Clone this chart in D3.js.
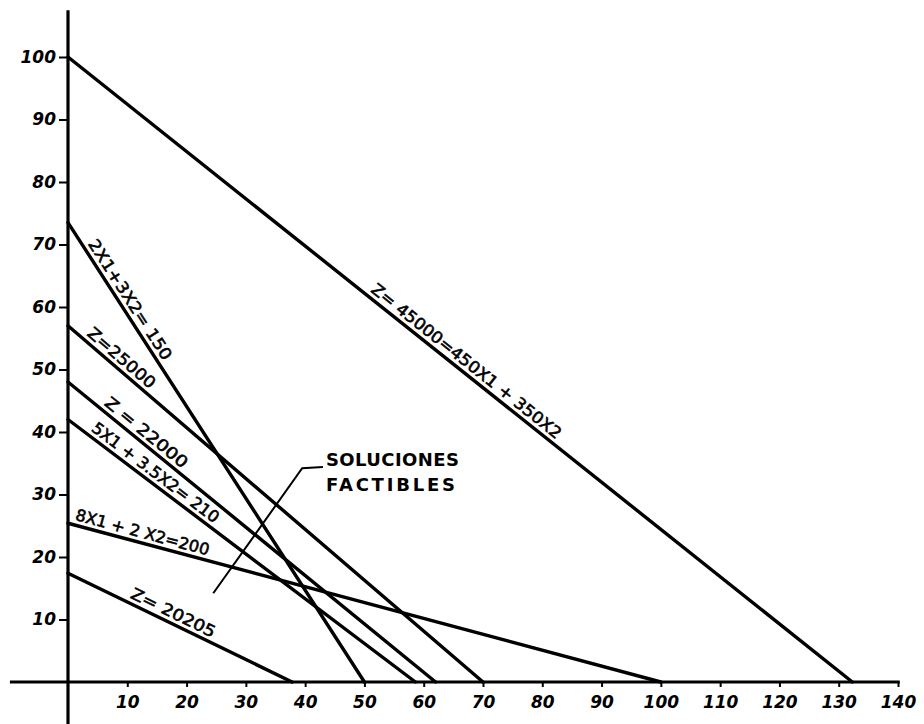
<!DOCTYPE html>
<html>
<head>
<meta charset="utf-8">
<script src="https://cdn.jsdelivr.net/npm/d3@7"></script>
<style>
  html, body { margin: 0; padding: 0; background: #fff; }
  svg { display: block; }
</style>
</head>
<body>
<svg id="chart" width="924" height="724"></svg>
<script>
// ---- data ----
const lineNames = ["Z= 45000=450X1 + 350X2", "2X1+3X2= 150", "Z=25000", "Z = 22000", "5X1 + 3.5X2= 210", "8X1 + 2 X2=200", "Z= 20205"];
const yIntercepts = [100, 73.5, 57, 48, 42, 25.4, 17.4];   // X2 value where the line meets the vertical axis
const xIntercepts = [132.3, 50, 70, 62, 58.6, 100, 37.8];  // X1 value where the line meets the horizontal axis
const xTicks = [10, 20, 30, 40, 50, 60, 70, 80, 90, 100, 110, 120, 130, 140];
const yTicks = [10, 20, 30, 40, 50, 60, 70, 80, 90, 100];
const annotationText = ["SOLUCIONES", "FACTIBLES"];
const annotationLeader = [[24.5, 14.2], [39.5, 34.2], [43, 34.4]];

// ---- layout ----
const labelCenterX = [66.1, 9.0, 7.9, 12.1, 13.7, 12.1, 17.0]; // where along each line its label sits (data X1)
const labelLength = [238, 140, 84, 102, 155, 138, 92];

const svg = d3.select("#chart");
svg.append("rect").attr("width", 924).attr("height", 724).attr("fill", "#fff");

const x = d3.scaleLinear().domain([0, 140]).range([68, 898]);
const y = d3.scaleLinear().domain([0, 100]).range([682, 57]);

// axes lines
svg.append("line")
  .attr("x1", x(0)).attr("x2", x(0))
  .attr("y1", y(-6.8)).attr("y2", y(107.5))
  .attr("stroke", "#000").attr("stroke-width", 3.2);
svg.append("line")
  .attr("x1", x(-9.8)).attr("x2", x(140.3))
  .attr("y1", y(0)).attr("y2", y(0))
  .attr("stroke", "#000").attr("stroke-width", 3.2);

const tickFont = "'DejaVu Sans', sans-serif";

const gx = svg.append("g").attr("transform", `translate(0,${y(0)})`)
  .call(d3.axisBottom(x).tickValues(xTicks).tickSize(5).tickPadding(9).tickFormat(d3.format("d")));
gx.select(".domain").remove();
gx.selectAll(".tick line").attr("stroke", "#000").attr("stroke-width", 2);
gx.selectAll(".tick text")
  .attr("font-family", tickFont).attr("font-size", 17).attr("font-weight", "bold")
  .attr("font-style", "italic").attr("fill", "#000");

const gy = svg.append("g").attr("transform", `translate(${x(0)},0)`)
  .call(d3.axisLeft(y).tickValues(yTicks).tickSize(9).tickPadding(3).tickFormat(d3.format("d")));
gy.select(".domain").remove();
gy.selectAll(".tick line").attr("stroke", "#000").attr("stroke-width", 2);
gy.selectAll(".tick text")
  .attr("font-family", tickFont).attr("font-size", 17).attr("font-weight", "bold")
  .attr("font-style", "italic").attr("fill", "#000");

// constraint / objective lines
const lines = lineNames.map((name, i) => ({
  name, yi: yIntercepts[i], xi: xIntercepts[i], cx: labelCenterX[i], len: labelLength[i]
}));

svg.append("g").selectAll("line.constraint").data(lines).join("line")
  .attr("class", "constraint")
  .attr("x1", d => x(0)).attr("y1", d => y(d.yi))
  .attr("x2", d => x(d.xi)).attr("y2", d => y(0))
  .attr("stroke", "#000").attr("stroke-width", 3.4).attr("stroke-linecap", "round");

// labels along lines
svg.append("g").selectAll("text.lbl").data(lines).join("text")
  .attr("class", "lbl")
  .attr("transform", d => {
    const px = x(d.cx);
    const py = y(d.yi * (1 - d.cx / d.xi));
    const ang = Math.atan2(y(0) - y(d.yi), x(d.xi) - x(0)) * 180 / Math.PI;
    return `translate(${px},${py}) rotate(${ang})`;
  })
  .attr("x", 0).attr("y", -5)
  .attr("text-anchor", "middle")
  .attr("textLength", d => d.len).attr("lengthAdjust", "spacingAndGlyphs")
  .attr("font-family", "'DejaVu Sans', sans-serif").attr("font-size", 16)
  .attr("fill", "#000").attr("stroke", "#000").attr("stroke-width", 0.6)
  .text(d => d.name);

// annotation leader
svg.append("path")
  .attr("d", d3.line().x(d => x(d[0])).y(d => y(d[1]))(annotationLeader))
  .attr("fill", "none").attr("stroke", "#000").attr("stroke-width", 2);

const end = annotationLeader[annotationLeader.length - 1];
svg.append("g").selectAll("text.ann").data(annotationText).join("text")
  .attr("class", "ann")
  .attr("x", x(end[0]) + 3)
  .attr("y", (d, i) => y(end[1]) - 1 + i * 25)
  .attr("textLength", (d, i) => i === 0 ? 133 : 129).attr("lengthAdjust", "spacing")
  .attr("font-family", "'DejaVu Sans', sans-serif").attr("font-size", 18).attr("font-weight", "bold")
  .attr("fill", "#000")
  .text(d => d);
</script>
</body>
</html>
